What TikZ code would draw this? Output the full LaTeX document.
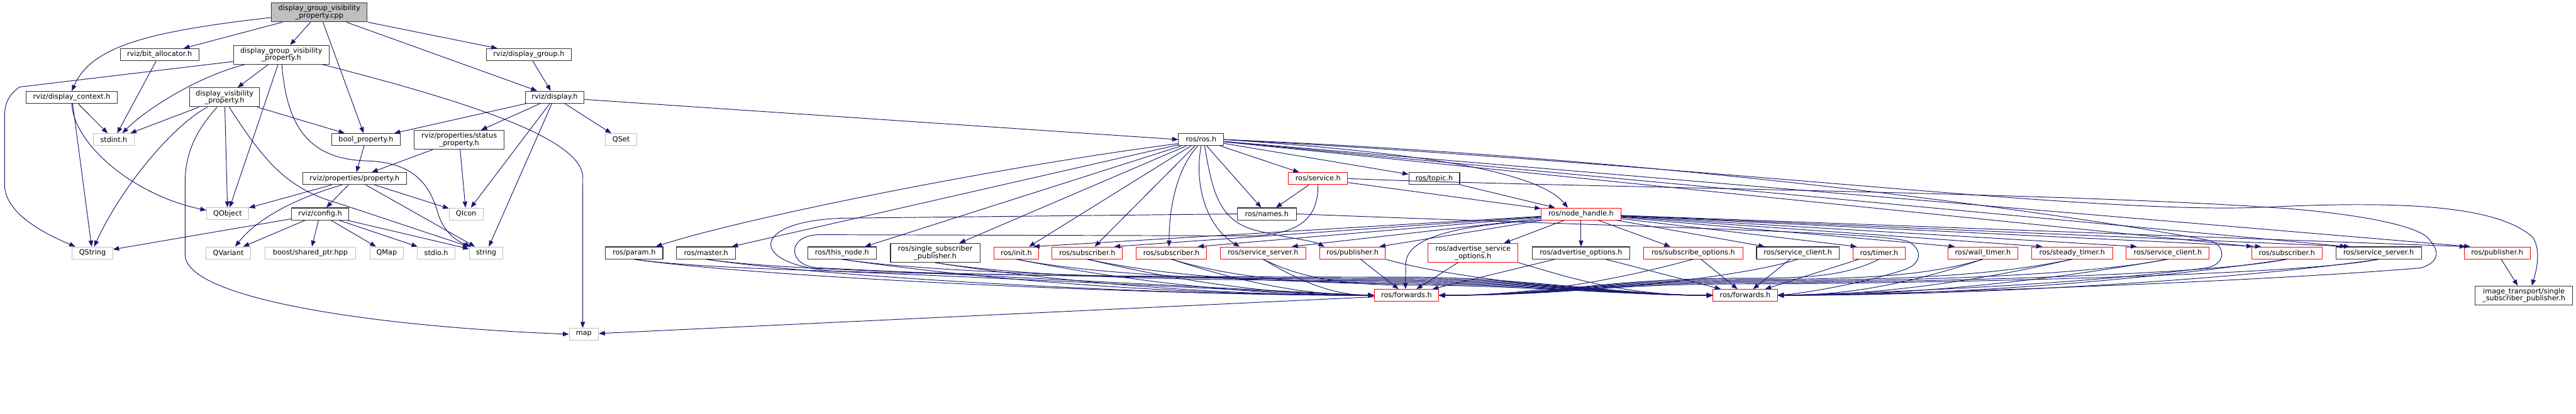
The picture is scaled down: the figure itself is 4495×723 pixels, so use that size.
\documentclass[tikz,border=0pt]{standalone}
\usepackage{fontspec}
\newfontfamily\dejavu{DejaVu Sans}
\usetikzlibrary{arrows.meta}
\definecolor{edgec}{HTML}{191970}
\definecolor{grayb}{HTML}{BFBFBF}
\definecolor{redb}{HTML}{FF0000}
\definecolor{cppfill}{HTML}{BFBFBF}
\newcommand\dvnf{\dejavu\fontsize{12.35pt}{12.6pt}\selectfont}
\tikzset{
 nbase/.style={rectangle, inner sep=0pt, minimum height=21pt, align=center, font=\dvnf, text=black},
 bl/.style={nbase, draw=black!80, line width=1.2pt},
 gr/.style={nbase, draw=grayb, line width=1pt},
 rd/.style={nbase, draw=redb, line width=1pt},
 two/.style={minimum height=33pt},
 dep/.style={draw=edgec, line width=1.05pt, -{Triangle[length=10.5pt,width=8pt]}}
}
\begin{document}
\begin{tikzpicture}[x=1pt,y=-1pt]
\useasboundingbox (0,0) rectangle (4495,723);
\fill[white] (0,0) rectangle (4495,723);
% ---------------- nodes
\node[bl,two,fill=cppfill,minimum width=167pt] (cpp) at (557.3,21.7) {display\_group\_visibility\\\_property.cpp};
\node[bl,minimum width=137.4pt] (bitalloc) at (278.4,95.5) {rviz/bit\_allocator.h};
\node[bl,two,minimum width=166.4pt] (dgvp) at (490.8,95.7) {display\_group\_visibility\\\_property.h};
\node[bl,minimum width=148.5pt] (dgroup) at (922.8,95.5) {rviz/display\_group.h};
\node[bl,minimum width=158.8pt] (dctx) at (125.3,170) {rviz/display\_context.h};
\node[bl,two,minimum width=122.4pt] (dvp) at (391.9,170) {display\_visibility\\\_property.h};
\node[bl,minimum width=102.6pt] (display) at (967.9,169.7) {rviz/display.h};
\node[gr,minimum width=70.4pt] (stdint) at (198.6,243.8) {stdint.h};
\node[bl,minimum width=119.8pt] (boolp) at (638.6,243.8) {bool\_property.h};
\node[bl,two,minimum width=157.3pt] (statusp) at (801.3,244.2) {rviz/properties/status\\\_property.h};
\node[gr,minimum width=55.1pt] (qset) at (1083.8,243.8) {QSet};
\node[bl,minimum width=78.9pt] (ros) at (2095.9,243.8) {ros/ros.h};
\node[bl,minimum width=181.1pt] (prop) at (618.7,311.9) {rviz/properties/property.h};
\node[rd,minimum width=103.3pt] (service) at (2299.9,311.9) {ros/service.h};
\node[bl,minimum width=88.8pt] (topic) at (2502.7,311.9) {ros/topic.h};
\node[gr,minimum width=73.5pt] (qobject) at (397.2,373.3) {QObject};
\node[bl,minimum width=99.2pt] (config) at (558.6,373.7) {rviz/config.h};
\node[gr,minimum width=59pt] (qicon) at (813.3,373.7) {QIcon};
\node[bl,minimum width=103pt] (names) at (2210.5,373.7) {ros/names.h};
\node[rd,minimum width=139.4pt] (nh) at (2758.8,373.7) {ros/node\_handle.h};
\node[gr,minimum width=70.8pt] (qstring) at (161.3,441.8) {QString};
\node[gr,minimum width=77.3pt] (qvariant) at (398.4,441.8) {QVariant};
\node[gr,minimum width=158.5pt] (boost) at (541.5,441.8) {boost/shared\_ptr.hpp};
\node[gr,minimum width=58.9pt] (qmap) at (674.8,441.8) {QMap};
\node[gr,minimum width=65.9pt] (stdio) at (761.2,441.8) {stdio.h};
\node[gr,minimum width=58.9pt] (string) at (848.2,441.8) {string};
\node[bl,minimum width=100.3pt] (param) at (1106.5,441.8) {ros/param.h};
\node[bl,minimum width=103.3pt] (master) at (1232,441.8) {ros/master.h};
\node[bl,minimum width=120.2pt] (thisnode) at (1469.3,441.8) {ros/this\_node.h};
\node[bl,two,minimum width=156.2pt] (ssp) at (1632,441.7) {ros/single\_subscriber\\\_publisher.h};
\node[rd,minimum width=77.7pt] (init) at (1773.5,441.8) {ros/init.h};
\node[rd,minimum width=123.2pt] (subA) at (1897.2,441.8) {ros/subscriber.h};
\node[rd,minimum width=122.8pt] (subB) at (2044,441.8) {ros/subscriber.h};
\node[rd,minimum width=149.7pt] (ssrvA) at (2204,441.8) {ros/service\_server.h};
\node[rd,minimum width=114.8pt] (pubA) at (2360,441.8) {ros/publisher.h};
\node[rd,two,minimum width=156.9pt] (asopt) at (2570.5,441.7) {ros/advertise\_service\\\_options.h};
\node[bl,minimum width=170.7pt] (aopt) at (2758.8,441.8) {ros/advertise\_options.h};
\node[rd,minimum width=173.3pt] (sopt) at (2954.6,441.8) {ros/subscribe\_options.h};
\node[bl,minimum width=144.2pt] (sclA) at (3137.1,441.8) {ros/service\_client.h};
\node[rd,minimum width=91pt] (timer) at (3278.9,441.8) {ros/timer.h};
\node[rd,minimum width=121.7pt] (wtimer) at (3460,441.8) {ros/wall\_timer.h};
\node[rd,minimum width=141.6pt] (stimer) at (3615.7,441.8) {ros/steady\_timer.h};
\node[rd,minimum width=144.7pt] (sclB) at (3782.6,441.8) {ros/service\_client.h};
\node[rd,minimum width=123pt] (subC) at (3990.5,441.8) {ros/subscriber.h};
\node[bl,minimum width=149.4pt] (ssrvB) at (4150.5,441.8) {ros/service\_server.h};
\node[rd,minimum width=114.8pt] (pubB) at (4357.4,441.8) {ros/publisher.h};
\node[rd,minimum width=112.2pt] (fwdA) at (2454.3,515.9) {ros/forwards.h};
\node[rd,minimum width=112.1pt] (fwdB) at (3045.3,515.9) {ros/forwards.h};
\node[bl,two,minimum width=169.8pt] (itssp) at (4404,516) {image\_transport/single\\\_subscriber\_publisher.h};
\node[gr,minimum width=51.2pt] (map) at (1018.8,583.8) {map};
% ---------------- rviz edges
\draw[dep] (cpp.186) .. controls (260,55) and (160,80) .. (dctx.north);
\draw[dep] (cpp) -- (bitalloc);
\draw[dep] (cpp) -- (dgvp);
\draw[dep] (cpp) -- (boolp);
\draw[dep] (cpp) -- (display);
\draw[dep] (cpp) -- (dgroup);
\draw[dep] (dgvp.188) -- (34,152) .. controls (15,166) and (8,180) .. (8,205) -- (8,322) .. controls (8,370) and (70,405) .. ([xshift=6pt]qstring.north west);
\draw[dep] ([xshift=-64pt]dgvp.south) .. controls (340,135) and (250,195) .. ([xshift=15pt]stdint.north);
\draw[dep] (dgvp) -- (dvp);
\draw[dep] (dgvp) -- (qobject);
\draw[dep] ([xshift=1pt]dgvp.south) .. controls (500,210) and (530,278) .. (640,281) .. controls (730,284) and (752,330) .. (765,375) .. controls (775,405) and (795,420) .. ([xshift=3pt]string.north west);
\draw[dep] ([xshift=72pt]dgvp.south) .. controls (802,174) and (1017,240) .. (1017,310) -- ([xshift=-2pt]map.north);
\draw[dep] (dctx) -- (stdint);
\draw[dep] (dctx) -- (qstring);
\draw[dep] (dctx.south) .. controls (128,250) and (230,340) .. ([yshift=6pt]qobject.west);
\draw[dep] (bitalloc) -- (stdint);
\draw[dep] (dvp) -- (stdint);
\draw[dep] ([xshift=-30pt]dvp.south) .. controls (300,220) and (210,330) .. ([xshift=3pt]qstring.north);
\draw[dep] ([xshift=-13pt]dvp.south) .. controls (340,230) and (323,270) .. (323,320) -- (323,445) .. controls (323,520) and (640,570) .. (map.west);
\draw[dep] (dvp) -- (qobject);
\draw[dep] ([xshift=8pt]dvp.south) .. controls (460,280) and (500,330) .. (590,355) -- (string.north west);
\draw[dep] (dvp) -- (boolp);
\draw[dep] (display) -- (boolp);
\draw[dep] (display) -- (statusp);
\draw[dep] (display) -- (qicon);
\draw[dep] (display) -- (string);
\draw[dep] (display) -- (qset);
\draw[dep] ([yshift=-4pt]display.east) -- (ros.west);
\draw[dep] (dgroup) -- (display);
\draw[dep] (boolp) -- (prop);
\draw[dep] (statusp) -- (prop);
\draw[dep] (statusp) -- (qicon);
\draw[dep] (prop) -- (qobject);
\draw[dep] ([xshift=-22pt]prop.south) .. controls (520,345) and (450,380) .. ([xshift=12pt]qvariant.north);
\draw[dep] (prop) -- (config);
\draw[dep] (prop) -- (string);
\draw[dep] (prop) -- (qicon);
\draw[dep] (config) -- (qstring);
\draw[dep] (config) -- (qvariant);
\draw[dep] (config) -- (boost);
\draw[dep] (config) -- (qmap);
\draw[dep] (config) -- (stdio);
\draw[dep] (config) -- (string);
% ---------------- ros.h edges
\draw[dep] ([yshift=-7pt]ros.west) .. controls (1750,290) and (1300,380) .. ([xshift=38pt]param.north);
\draw[dep] (ros) -- ([xshift=45pt]master.north);
\draw[dep] (ros) -- ([xshift=40pt]thisnode.north);
\draw[dep] (ros) -- ([xshift=42pt]ssp.north);
\draw[dep] (ros) -- ([xshift=22pt]init.north);
\draw[dep] (ros) -- ([xshift=13pt]subA.north);
\draw[dep] ([xshift=-6pt]ros.south) .. controls (2050,300) and (2040,370) .. ([xshift=-4pt]subB.north);
\draw[dep] (ros.south) .. controls (2082,330) and (2110,400) .. ([xshift=-41pt]ssrvA.north);
\draw[dep] ([xshift=6pt]ros.south) .. controls (2115,330) and (2125,385) .. (2190,402) .. controls (2240,415) and (2290,420) .. ([xshift=-49pt]pubA.north);
\draw[dep] (ros) -- (names);
\draw[dep] (ros) -- (service);
\draw[dep] (ros) -- (topic);
\draw[dep] (ros.east) .. controls (2450,265) and (2680,295) .. ([xshift=-23pt]nh.north);
\draw[dep] (ros) -- ([xshift=-60pt]subC.north);
\draw[dep] (ros) -- ([xshift=-57pt]ssrvB.north);
\draw[dep] (ros) -- ([xshift=-47pt]pubB.north);
\draw[dep] (ros.east) .. controls (3000,290) and (3650,375) .. (3950,362) .. controls (4200,350) and (4360,360) .. (4420,415) .. controls (4435,440) and (4425,475) .. ([xshift=14pt]itssp.north);
\draw[dep] (ros.east) .. controls (3000,280) and (3700,390) .. (3855,420) .. controls (3885,428) and (3885,462) .. (3850,468) .. controls (3600,500) and (3250,512) .. (fwdB.east);
% ---------------- service / names / topic
\draw[dep] (service) -- (names);
\draw[dep] (service) -- (nh);
\draw[dep] (service.south) .. controls (2300,380) and (2270,410) .. (2180,412) -- (1430,410) .. controls (1372,410) and (1372,466) .. (1430,468) .. controls (1900,490) and (2250,510) .. (fwdA.west);
\draw[dep] (service.east) .. controls (2700,327) and (3600,335) .. (4000,365) .. controls (4150,378) and (4230,400) .. (4240,420) .. controls (4258,440) and (4255,458) .. (4225,468) .. controls (3900,495) and (3300,514) .. (fwdB.east);
\draw[dep] (names.west) -- (1480,381) .. controls (1300,383) and (1300,470) .. (1480,475) .. controls (1900,492) and (2250,512) .. (fwdA.west);
\draw[dep] (names.east) .. controls (2800,395) and (3290,405) .. (3330,422) .. controls (3355,435) and (3355,462) .. (3320,472) .. controls (3250,495) and (3150,512) .. (fwdB.east);
\draw[dep] (topic) -- (nh);
% ---------------- node_handle edges
\draw[dep] (nh) -- ([xshift=30pt]init.north);
\draw[dep] (nh) -- ([xshift=47pt]subA.north);
\draw[dep] (nh) -- ([xshift=46pt]subB.north);
\draw[dep] (nh) -- ([xshift=50pt]ssrvA.north);
\draw[dep] (nh) -- ([xshift=47pt]pubA.north);
\draw[dep] (nh) -- ([xshift=54pt]asopt.north);
\draw[dep] (nh) -- (aopt);
\draw[dep] (nh) -- ([xshift=-40pt]sopt.north);
\draw[dep] (nh) -- ([xshift=-58pt]sclA.north);
\draw[dep] (nh) -- ([xshift=-39pt]timer.north);
\draw[dep] (nh) -- ([xshift=-49pt]wtimer.north);
\draw[dep] (nh) -- ([xshift=-52pt]stimer.north);
\draw[dep] (nh) -- ([xshift=-54pt]sclB.north);
\draw[dep] (nh) -- ([xshift=-45pt]subC.north);
\draw[dep] (nh) -- ([xshift=-50pt]ssrvB.north);
\draw[dep] (nh) -- ([xshift=-55pt]pubB.north);
\draw[dep] (nh.south west) .. controls (2520,395) and (2453,420) .. (2453,462) -- ([xshift=-2pt]fwdA.north);
% ---------------- row 6 -> forwards A (from left)
\draw[dep] (param.south) .. controls +(200,30) and +(-400,0) .. (fwdA.west);
\draw[dep] (master.south) .. controls +(200,30) and +(-400,0) .. (fwdA.west);
\draw[dep] (thisnode.south) .. controls +(200,30) and +(-370,0) .. (fwdA.west);
\draw[dep] (ssp.south) .. controls +(190,30) and +(-300,0) .. (fwdA.west);
\draw[dep] (init.south) .. controls +(150,30) and +(-250,0) .. (fwdA.west);
\draw[dep] (subA.south) .. controls +(125,30) and +(-200,0) .. (fwdA.west);
\draw[dep] (subB.south) .. controls +(90,30) and +(-140,0) .. (fwdA.west);
\draw[dep] (ssrvA.south) .. controls +(50,30) and +(-80,0) .. (fwdA.west);
\draw[dep] (pubA) -- (fwdA);
\draw[dep] (asopt) -- (fwdA);
\draw[dep] (aopt) -- (fwdA);
% ---------------- row 6 -> forwards B (from left)
\draw[dep] (param.south) .. controls +(200,30) and +(-300,0) .. (2455,484) .. controls +(200,0) and +(-150,0) .. (fwdB.west);
\draw[dep] (master.south) .. controls +(200,30) and +(-300,0) .. (2455,486) .. controls +(200,0) and +(-150,0) .. (fwdB.west);
\draw[dep] (thisnode.south) .. controls +(200,30) and +(-300,0) .. (2455,488) .. controls +(200,0) and +(-150,0) .. (fwdB.west);
\draw[dep] (ssp.south) .. controls +(190,30) and +(-300,0) .. (2455,490) .. controls +(200,0) and +(-150,0) .. (fwdB.west);
\draw[dep] (init.south) .. controls +(150,30) and +(-250,0) .. (2455,492) .. controls +(200,0) and +(-150,0) .. (fwdB.west);
\draw[dep] (subA.south) .. controls +(140,30) and +(-250,0) .. (2455,494) .. controls +(200,0) and +(-150,0) .. (fwdB.west);
\draw[dep] (subB.south) .. controls +(100,30) and +(-200,0) .. (2455,496) .. controls +(200,0) and +(-150,0) .. (fwdB.west);
\draw[dep] (ssrvA.south) .. controls +(60,30) and +(-120,0) .. (2455,498) .. controls +(200,0) and +(-150,0) .. (fwdB.west);
\draw[dep] (pubA.south east) .. controls +(100,30) and +(-200,0) .. (fwdB.west);
\draw[dep] (asopt.south east) .. controls +(100,30) and +(-150,0) .. (fwdB.west);
\draw[dep] (aopt) -- (fwdB);
\draw[dep] (sopt) -- (fwdB);
\draw[dep] (sclA) -- (fwdB);
\draw[dep] (timer) -- (fwdB);
% ---------------- row 6 -> forwards A (from right)
\draw[dep] (sopt.south) .. controls +(-110,30) and +(180,0) .. (fwdA.east);
\draw[dep] (sclA.south) .. controls +(-90,30) and +(250,0) .. (fwdA.east);
\draw[dep] (timer.south) .. controls +(-60,30) and +(110,0) .. (3045,486) .. controls +(-250,0) and +(200,0) .. (fwdA.east);
\draw[dep] (wtimer.south) .. controls +(-100,30) and +(200,0) .. (3045,488) .. controls +(-250,0) and +(200,0) .. (fwdA.east);
\draw[dep] (stimer.south) .. controls +(-140,30) and +(250,0) .. (3045,490) .. controls +(-250,0) and +(200,0) .. (fwdA.east);
\draw[dep] (sclB.south) .. controls +(-150,30) and +(250,0) .. (3045,492) .. controls +(-250,0) and +(200,0) .. (fwdA.east);
\draw[dep] (subC.south) .. controls +(-150,30) and +(250,0) .. (3045,494) .. controls +(-250,0) and +(200,0) .. (fwdA.east);
\draw[dep] (ssrvB.south) .. controls +(-150,30) and +(250,0) .. (3045,496) .. controls +(-250,0) and +(200,0) .. (fwdA.east);
% ---------------- row 6 -> forwards B (from right)
\draw[dep] (wtimer.south) .. controls +(-90,30) and +(150,0) .. (fwdB.east);
\draw[dep] (stimer.south) .. controls +(-130,30) and +(200,0) .. (fwdB.east);
\draw[dep] (sclB.south) .. controls +(-170,30) and +(270,0) .. (fwdB.east);
\draw[dep] (subC.south) .. controls +(-200,30) and +(350,0) .. (fwdB.east);
\draw[dep] (ssrvB.south) .. controls +(-200,30) and +(400,0) .. (fwdB.east);
% ---------------- remaining
\draw[dep] (pubB) -- (itssp);
\draw[dep] (fwdA) -- (map);
\end{tikzpicture}
\end{document}
